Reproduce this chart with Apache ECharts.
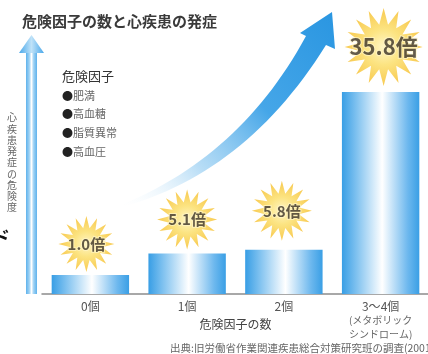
<!DOCTYPE html>
<html><head><meta charset="utf-8">
<script src="https://cdn.jsdelivr.net/npm/echarts@6/dist/echarts.min.js"></script>
<style>html,body{margin:0;padding:0;background:#fff}#c{width:428px;height:354px}</style>
</head><body><div id="c"></div>
<script>
const categories = ['0個', '1個', '2個', '3〜4個'];
const categoryNote = ['(メタボリック', 'シンドローム)'];
const ratios = [1.0, 5.1, 5.8, 35.8];
const ratioLabels = ['1.0', '5.1', '5.8', '35.8'];
const riskFactors = ['肥満', '高血糖', '脂質異常', '高血圧'];
const titleText = '危険因子の数と心疾患の発症';
const legendTitle = '危険因子';
const yName = '心疾患発症の危険度';
const xName = '危険因子の数';
const sourceText = '出典:旧労働省作業関連疾患総合対策研究班の調査(2001)';

const FONT = '"Noto Sans CJK JP", "Noto Sans", sans-serif';
const Y_MIN = -2.6, Y_MAX = 35.8;

function starPath(n, rOut, rIn) {
  let d = '';
  for (let i = 0; i < 2 * n; i++) {
    const a = -Math.PI / 2 + i * Math.PI / n;
    const r = i % 2 ? rIn : rOut;
    d += (i ? 'L' : 'M') + (50 + r * Math.cos(a)).toFixed(2) + ' ' + (50 + r * Math.sin(a)).toFixed(2);
  }
  return 'path://' + d + 'Z';
}
const STAR = starPath(16, 50, 29);

function quad(p0, c, p1, n) {
  const pts = [];
  for (let i = 0; i <= n; i++) {
    const t = i / n, u = 1 - t;
    pts.push([u * u * p0[0] + 2 * u * t * c[0] + t * t * p1[0], u * u * p0[1] + 2 * u * t * c[1] + t * t * p1[1]]);
  }
  return pts;
}
const upperEdge = quad([118, 206], [240, 158], [306, 36], 30);
const lowerEdge = quad([118, 208], [245, 175], [326, 45], 30).reverse();
const arrowPts = upperEdge.concat([[300, 33], [332, 12], [335, 49]], lowerEdge);

const chart = echarts.init(document.getElementById('c'), null, {renderer: 'canvas'});

const barColor = new echarts.graphic.LinearGradient(0, 0, 1, 0, [
  {offset: 0, color: '#389EE5'},
  {offset: 0.18, color: '#7CC0EF'},
  {offset: 0.52, color: '#FFFFFF'},
  {offset: 0.85, color: '#6DB8EE'},
  {offset: 1, color: '#3A9FE5'}
]);
const starColor = new echarts.graphic.RadialGradient(0.5, 0.5, 0.5, [
  {offset: 0, color: '#FFF4B8'},
  {offset: 0.45, color: '#FBDD63'},
  {offset: 1, color: '#F6BC24'}
]);

const starSizes = [56, 60, 60, 78];
const starOffsets = [[-4, -31], [0, -34], [-2, -39], [3, -45]];
const starData = ratios.map((v, i) => ({
  value: [i, v],
  symbolSize: starSizes[i],
  symbolOffset: starOffsets[i],
  label: {fontSize: i === 3 ? 22 : 15}
}));

const legendGraphics = [
  {type: 'text', left: 62, top: 70, style: {text: legendTitle, font: '13px ' + FONT, fill: '#333'}}
];
riskFactors.forEach((f, i) => {
  legendGraphics.push({
    type: 'text', left: 62, top: 90 + i * 18.7,
    style: {
      text: '{b|●}{t|' + f + '}',
      rich: {b: {fontSize: 11, fill: '#222', fontFamily: FONT}, t: {fontSize: 11, fill: '#666', fontFamily: FONT}}
    }
  });
});

const option = {
  backgroundColor: '#fff',
  animation: false,
  title: {
    text: titleText, left: 22, top: 14, padding: 0,
    textStyle: {fontSize: 15, fontWeight: 'bold', color: '#3a3a3a', fontFamily: FONT}
  },
  grid: {left: 42, right: -1, top: 92, bottom: 60, containLabel: false, outerBoundsMode: 'none'},
  xAxis: {
    type: 'category',
    data: categories,
    axisLine: {onZero: false, lineStyle: {color: '#8c8c8c', width: 1.5}},
    axisTick: {show: false},
    axisLabel: {
      interval: 0,
      color: '#555', fontSize: 12, margin: 5, lineHeight: 14, fontFamily: FONT,
      formatter: (v, i) => i === 3 ? v + '\n{s|' + categoryNote[0] + '}\n{s|' + categoryNote[1] + '}' : v,
      rich: {s: {fontSize: 10, lineHeight: 14, color: '#666', fontFamily: FONT}}
    },
    name: xName, nameLocation: 'middle', nameGap: 24, nameMoveOverlap: false,
    nameTextStyle: {color: '#444', fontSize: 12, fontFamily: FONT}
  },
  yAxis: {type: 'value', min: Y_MIN, max: Y_MAX, show: false},
  series: [
    {
      type: 'custom',
      data: ratios.map((v, i) => [i, v]),
      renderItem: (params, api) => {
        const top = api.coord([api.value(0), api.value(1)]);
        const base = api.coord([api.value(0), Y_MIN]);
        const w = api.size([1, 0])[0] * 0.8;
        return {
          type: 'rect',
          shape: {x: top[0] - w / 2, y: top[1], width: w, height: base[1] - top[1]},
          style: {fill: barColor}
        };
      },
      z: 2
    },
    {
      type: 'scatter', data: starData, symbol: STAR,
      itemStyle: {color: starColor},
      label: {
        show: true, position: 'inside',
        formatter: p => ratioLabels[p.dataIndex] + '倍',
        color: '#3b3226', fontWeight: 'bold', fontFamily: FONT,
        textBorderColor: 'rgba(255,245,200,0.9)', textBorderWidth: 2
      },
      z: 5
    }
  ],
  graphic: [
    {
      type: 'polygon', z: 1,
      shape: {points: arrowPts},
      style: {
        fill: new echarts.graphic.LinearGradient(0, 1, 1, 0, [
          {offset: 0, color: 'rgba(255,255,255,0)'},
          {offset: 0.3, color: 'rgba(160,210,243,0.75)'},
          {offset: 0.6, color: '#45A6E8'},
          {offset: 1, color: '#2A96E1'}
        ])
      }
    },
    {
      type: 'rect', z: 1,
      shape: {x: 26, y: 50, width: 11, height: 244},
      style: {
        fill: new echarts.graphic.LinearGradient(0, 0, 1, 0, [
          {offset: 0, color: '#5FB2EC'},
          {offset: 0.3, color: '#9ED2F4'},
          {offset: 0.5, color: '#FFFFFF'},
          {offset: 0.7, color: '#9ED2F4'},
          {offset: 1, color: '#5FB2EC'}
        ])
      }
    },
    {
      type: 'polygon', z: 1,
      shape: {points: [[31.5, 35], [19, 53], [44, 53]]},
      style: {
        fill: new echarts.graphic.LinearGradient(0, 0, 1, 0, [
          {offset: 0, color: '#4AA8EA'},
          {offset: 0.5, color: '#BFE2F8'},
          {offset: 1, color: '#4AA8EA'}
        ])
      }
    },
    {
      type: 'text', left: 7, top: 112,
      style: {text: yName.split('').join('\n'), font: '10px ' + FONT, fill: '#666', lineHeight: 11.25}
    },
    {
      type: 'text', left: -8, top: 228,
      style: {text: 'ド', font: 'bold 18px ' + FONT, fill: '#111'}
    },
    ...legendGraphics,
    {
      type: 'text', left: 170, top: 343,
      style: {text: sourceText, font: '10.5px ' + FONT, fill: '#666'}
    }
  ]
};
chart.setOption(option);
</script>
</body></html>
